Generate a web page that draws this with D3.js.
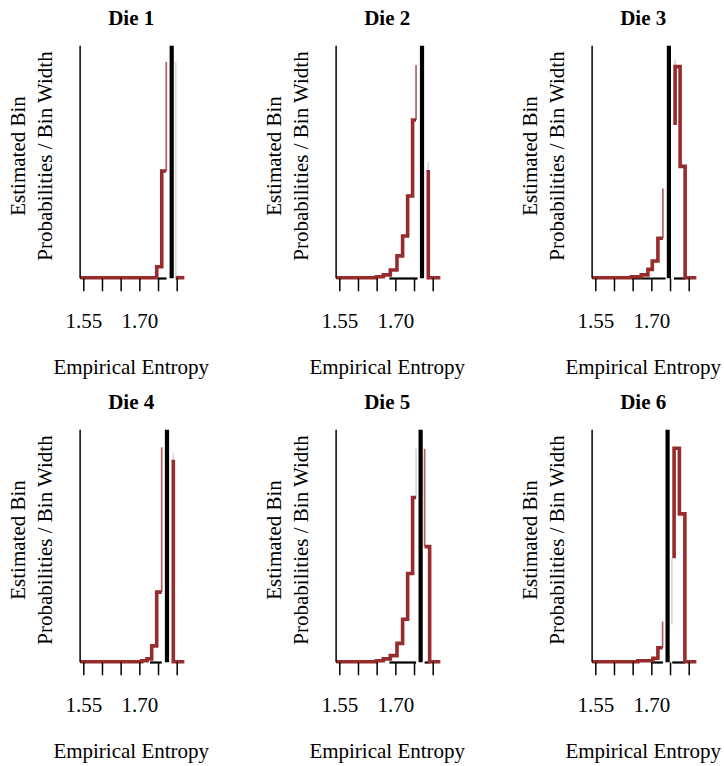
<!DOCTYPE html>
<meta charset="utf-8">
<html>
<head>
<style>
body { margin: 0; background: #fff; }
svg text { font-family: "Liberation Serif", "Times New Roman", serif; font-size: 21px; fill: #000; }
.title { font-weight: bold; }
.tick line { stroke: #000; stroke-width: 1.5; }
</style>
</head>
<body>
<svg id="chart" width="724" height="766"></svg>
<script src="https://d3js.org/d3.v7.min.js"></script>
<script>
// values (entropy on x, bin probability / bin width scaled to the axis height on y)
var dieNames = ["Die 1", "Die 2", "Die 3", "Die 4", "Die 5", "Die 6"];
var xTicks = [1.55, 1.60, 1.65, 1.70, 1.75, 1.80];
var labeledTicks = [1.55, 1.70];
var xRange = [1.5415, 1.8205];
var observedEntropy = [1.7866, 1.7714, 1.7470, 1.7740, 1.7677, 1.7435];

// thick estimate lines: pieces of [entropy, height] drawn as steps
var die1Steps = [
  [[1.5415, 0], [1.7465, 0.047], [1.760, 0.46], [1.772, 0.46]],
  [[1.7973, 0], [1.8205, 0]]
];
var die2Steps = [
  [[1.5415, 0], [1.649, 0.004], [1.6678, 0.012], [1.6865, 0.033], [1.7044, 0.094], [1.7195, 0.18],
   [1.7329, 0.352], [1.7462, 0.68], [1.7555, 0.68]],
  [[1.7882, 0.464], [1.7882, 0], [1.8205, 0]]
];
var die3Steps = [
  [[1.5415, 0], [1.6464, 0.004], [1.6731, 0.012], [1.6908, 0.036], [1.7026, 0.072], [1.7176, 0.17], [1.7309, 0.17]],
  [[1.7636, 0.658], [1.7636, 0.91], [1.777, 0.48], [1.7904, 0], [1.8205, 0]]
];
var die4Steps = [
  [[1.5415, 0], [1.7063, 0.004], [1.7205, 0.012], [1.7331, 0.068], [1.7465, 0.30], [1.7599, 0.30]],
  [[1.7909, 0.87], [1.7909, 0], [1.8205, 0]]
];
var die5Steps = [
  [[1.5415, 0], [1.649, 0.004], [1.6678, 0.012], [1.6865, 0.026], [1.7044, 0.079], [1.7195, 0.183],
   [1.7329, 0.38], [1.7462, 0.708], [1.7555, 0.708]],
  [[1.7784, 0.496], [1.7918, 0], [1.8205, 0]]
];
var die6Steps = [
  [[1.5415, 0], [1.664, 0.004], [1.7042, 0.015], [1.7176, 0.06], [1.7301, 0.06]],
  [[1.7609, 0.446], [1.7609, 0.92], [1.7751, 0.637], [1.7898, 0], [1.8205, 0]]
];

// thin spikes [entropy, from, to]
var thinSpikes = [
  [[1.772, 0.46, 0.93]],
  [[1.7555, 0.68, 0.917]],
  [[1.7309, 0.17, 0.385]],
  [[1.7599, 0.30, 0.924]],
  [[1.7784, 0.496, 0.918]],
  [[1.7301, 0.06, 0.173]]
];
// faint grey spikes [entropy, from, to]
var faintSpikes = [
  [[1.7973, 0, 0.93]],
  [[1.7882, 0.464, 0.50]],
  [[1.7636, 0.91, 0.94]],
  [[1.7909, 0.87, 0.90]],
  [[1.7555, 0.708, 0.92]],
  [[1.755, 0.16, 0.446]]
];
// black baseline segments [from, to]
var baseSegments = [
  [[1.7505, 1.7728]],
  [[1.684, 1.7596]],
  [[1.6498, 1.7382], [1.7604, 1.7917]],
  [[1.7285, 1.7599]],
  [[1.684, 1.7555], [1.7784, 1.7918]],
  [[1.700, 1.731], [1.756, 1.7898]]
];

var stepPieces = [die1Steps, die2Steps, die3Steps, die4Steps, die5Steps, die6Steps];

var red = "#982b2b";
var panelW = 256, panelH = 384;

var svg = d3.select("#chart");

var x = d3.scaleLinear().domain([1.55, 1.80]).range([83.3, 176.7]);
var y = d3.scaleLinear().domain([0, 1]).range([277.7, 45.7]);

var line = d3.line()
  .x(function(d) { return x(d[0]); })
  .y(function(d) { return y(d[1]); })
  .curve(d3.curveStepAfter);

dieNames.forEach(function(name, i) {
  var col = i % 3, row = Math.floor(i / 3);
  var g = svg.append("g")
    .attr("transform", "translate(" + (col * panelW) + "," + (row * panelH) + ")");

  // baseline segments
  g.selectAll(".base")
    .data(baseSegments[i])
    .enter().append("line")
      .attr("x1", function(d) { return x(d[0]); })
      .attr("x2", function(d) { return x(d[1]); })
      .attr("y1", y(0) + 0.8).attr("y2", y(0) + 0.8)
      .attr("stroke", "#000").attr("stroke-width", 2.2);

  // faint spikes
  g.selectAll(".faint")
    .data(faintSpikes[i])
    .enter().append("line")
      .attr("x1", function(d) { return x(d[0]); })
      .attr("x2", function(d) { return x(d[0]); })
      .attr("y1", function(d) { return y(d[1]); })
      .attr("y2", function(d) { return y(d[2]); })
      .attr("stroke", "#d6d6d6").attr("stroke-width", 1.6);

  // thin spikes
  g.selectAll(".thin")
    .data(thinSpikes[i])
    .enter().append("line")
      .attr("x1", function(d) { return x(d[0]); })
      .attr("x2", function(d) { return x(d[0]); })
      .attr("y1", function(d) { return y(d[1]); })
      .attr("y2", function(d) { return y(d[2]); })
      .attr("stroke", red).attr("stroke-opacity", 0.75).attr("stroke-width", 1.7);

  // thick estimate
  g.selectAll(".est")
    .data(stepPieces[i])
    .enter().append("path")
      .attr("d", line)
      .attr("fill", "none")
      .attr("stroke", red)
      .attr("stroke-width", 3.6);

  // observed entropy
  g.append("line")
    .attr("x1", x(observedEntropy[i])).attr("x2", x(observedEntropy[i]))
    .attr("y1", y(0) + 0.6).attr("y2", y(1))
    .attr("stroke", "#000").attr("stroke-width", 4.2);

  // y axis line
  g.append("line")
    .attr("x1", x(xRange[0])).attr("x2", x(xRange[0]))
    .attr("y1", y(0) + 0.6).attr("y2", y(1))
    .attr("stroke", "#000").attr("stroke-width", 1.5);

  // x axis ticks
  var ax = g.append("g")
    .attr("transform", "translate(0," + (y(0) + 0.6) + ")")
    .call(d3.axisBottom(x).tickValues(xTicks).tickSize(13).tickPadding(22)
      .tickFormat(function(d) { return labeledTicks.indexOf(d) >= 0 ? d.toFixed(2) : ""; }));
  ax.select(".domain").remove();
  ax.selectAll("text").style("font-size", "21px")
    .style("font-family", '"Liberation Serif", "Times New Roman", serif');

  var cx = x((xRange[0] + xRange[1]) / 2);

  g.append("text").attr("class", "title")
    .attr("x", cx - 1).attr("y", 24.5)
    .attr("text-anchor", "middle").text(name);

  g.append("text")
    .attr("x", cx - 1).attr("y", 374)
    .attr("text-anchor", "middle").text("Empirical Entropy");

  g.append("text")
    .attr("transform", "translate(25,156) rotate(-90)")
    .attr("text-anchor", "middle").text("Estimated Bin");
  g.append("text")
    .attr("transform", "translate(52,156) rotate(-90)")
    .attr("text-anchor", "middle").text("Probabilities / Bin Width");
});
</script>
</body>
</html>
